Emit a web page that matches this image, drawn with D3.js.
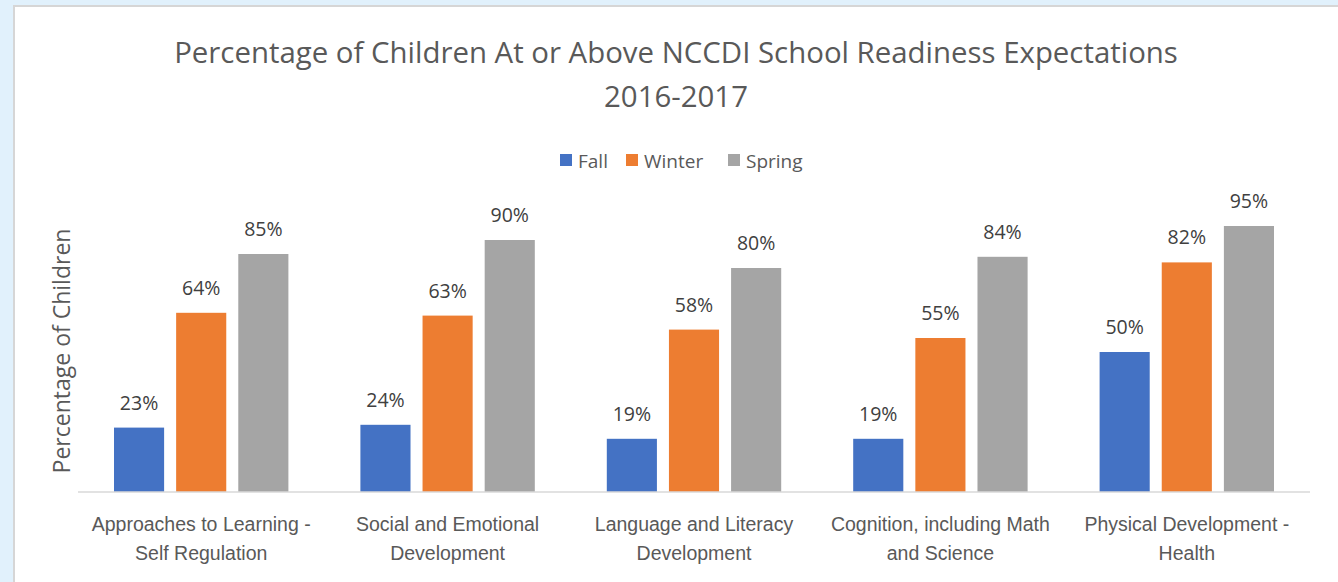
<!DOCTYPE html>
<html>
<head>
<meta charset="utf-8">
<script src="https://cdn.jsdelivr.net/npm/d3@7"></script>
<style>
  html, body { margin: 0; padding: 0; background: #e1f1fc; }
  svg { display: block; font-family: "Open Sans", sans-serif; }
</style>
</head>
<body>
<svg id="chart" width="1338" height="582"></svg>
<script>
const categories = [
  ["Approaches to Learning -", "Self Regulation"],
  ["Social and Emotional", "Development"],
  ["Language and Literacy", "Development"],
  ["Cognition, including Math", "and Science"],
  ["Physical Development -", "Health"]
];
const seriesNames = ["Fall", "Winter", "Spring"];
const fall = [0.23, 0.24, 0.19, 0.19, 0.50];
const winter = [0.64, 0.63, 0.58, 0.55, 0.82];
const spring = [0.85, 0.90, 0.80, 0.84, 0.95];
const colors = ["#4472c4", "#ed7d31", "#a5a5a5"];

const svg = d3.select("#chart");

// white chart panel
svg.append("rect")
  .attr("x", 14).attr("y", 6)
  .attr("width", 1340).attr("height", 600)
  .attr("fill", "#fff")
  .attr("stroke", "#d6d6d6")
  .attr("stroke-width", 2);

const plot = { left: 78, right: 1310, top: 212, bottom: 492 };

const x0 = d3.scaleBand()
  .domain(d3.range(categories.length))
  .range([plot.left, plot.right])
  .paddingInner(0).paddingOuter(0);

const x1 = d3.scaleBand()
  .domain(seriesNames)
  .range([36, x0.bandwidth() - 36])
  .paddingInner(12 / 62);

const y = d3.scaleLinear().domain([0, 1]).range([plot.bottom, plot.top]);

// title
const title = svg.append("text")
  .attr("text-anchor", "middle")
  .attr("fill", "#595959")
  .attr("font-size", 29.4);
title.append("tspan").attr("x", 676).attr("y", 63)
  .text("Percentage of Children At or Above NCCDI School Readiness Expectations");
title.append("tspan").attr("x", 676).attr("y", 107).text("2016-2017");

// legend
const legendPos = [560, 626, 728];
const legend = svg.append("g");
seriesNames.forEach((name, i) => {
  legend.append("rect")
    .attr("x", legendPos[i]).attr("y", 154)
    .attr("width", 12).attr("height", 12)
    .attr("fill", colors[i]);
  legend.append("text")
    .attr("x", legendPos[i] + 18).attr("y", 168)
    .attr("fill", "#595959").attr("font-size", 19)
    .text(name);
});

const data = [fall, winter, spring];

const groups = svg.append("g")
  .selectAll("g")
  .data(categories)
  .join("g")
  .attr("transform", (d, i) => `translate(${x0(i)},0)`);

groups.each(function(cat, ci) {
  const g = d3.select(this);
  seriesNames.forEach((name, si) => {
    const v = data[si][ci];
    g.append("rect")
      .attr("x", x1(name))
      .attr("y", y(v))
      .attr("width", x1.bandwidth())
      .attr("height", y(0) - y(v))
      .attr("fill", colors[si]);
    g.append("text")
      .attr("x", x1(name) + x1.bandwidth() / 2)
      .attr("y", y(v) - 18)
      .attr("text-anchor", "middle")
      .attr("fill", "#404040")
      .attr("font-size", 19.5)
      .text(d3.format(".0%")(v));
  });
});

// baseline
svg.append("line")
  .attr("x1", plot.left).attr("x2", plot.right)
  .attr("y1", y(0)).attr("y2", y(0))
  .attr("stroke", "#d9d9d9").attr("stroke-width", 1.5);

// category labels
const xAxis = d3.axisBottom(x0).tickSize(0).tickFormat("");
svg.append("g")
  .attr("transform", `translate(0,${y(0)})`)
  .call(xAxis)
  .call(g => g.select(".domain").remove())
  .selectAll(".tick")
  .append("text")
  .attr("text-anchor", "middle")
  .attr("fill", "#595959")
  .attr("font-size", 19.5)
  .each(function(i) {
    const t = d3.select(this);
    categories[i].forEach((line, li) => {
      t.append("tspan").attr("x", 0).attr("y", 39 + li * 29).text(line);
    });
  });

// y axis title
svg.append("text")
  .attr("transform", `translate(70,351) rotate(-90)`)
  .attr("text-anchor", "middle")
  .attr("fill", "#595959")
  .attr("font-size", 23)
  .text("Percentage of Children");
</script>
</body>
</html>
